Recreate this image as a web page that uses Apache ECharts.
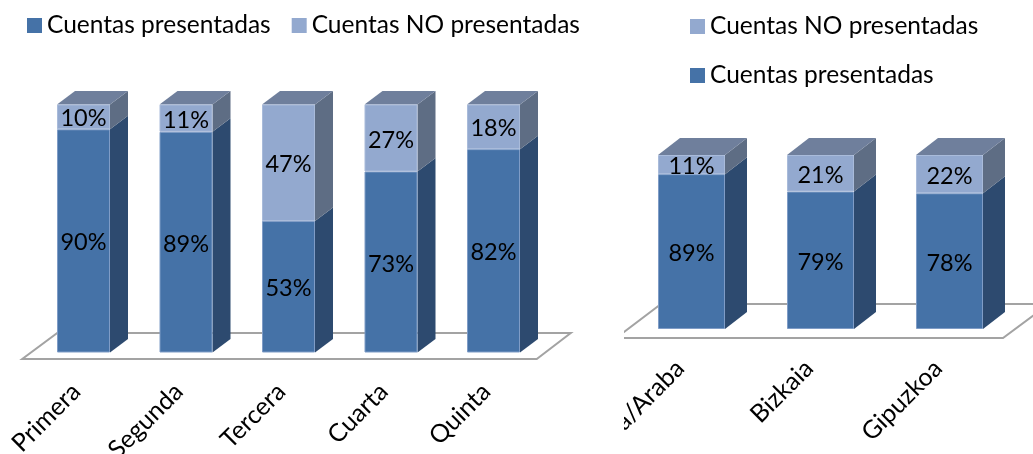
<!DOCTYPE html>
<html>
<head>
<meta charset="utf-8">
<style>
html,body{margin:0;padding:0;background:#fff;overflow:hidden}
#a{position:absolute;left:0;top:0;width:624px;height:454px}
#b{position:absolute;left:624px;top:0;width:409px;height:454px}
</style>
<script src="https://cdn.jsdelivr.net/npm/echarts@6/dist/echarts.min.js"></script>
</head>
<body>
<div id="a"></div>
<div id="b"></div>
<script>
const leftCategories = ['Primera','Segunda','Tercera','Cuarta','Quinta'];
const leftPresented = [90,89,53,73,82];
const leftNotPresented = [10,11,47,27,18];

const rightCategories = ['Álava/Araba','Bizkaia','Gipuzkoa'];
const rightPresented = [89,79,78];
const rightNotPresented = [11,21,22];

const PRESENTED = 'Cuentas presentadas';
const NOT_PRESENTED = 'Cuentas NO presentadas';
const FONT = 'Lato, "Open Sans", sans-serif';

function faces(presented, notPresented) {
  const rows = [];
  presented.forEach((v, i) => {
    rows.push([i, 0, v, 0]);
    rows.push([i, v, v + notPresented[i], 1]);
  });
  return rows;
}

function build(cfg) {
  const depth = function (params, api) {
    const p0 = api.coord([api.value(0), api.value(1)]);
    const p1 = api.coord([api.value(0), api.value(2)]);
    const r = p0[0] + cfg.barWidth / 2;
    const l = p0[0] - cfg.barWidth / 2;
    const dx = cfg.dx, dy = cfg.dy;
    const light = api.value(3) === 1;
    const children = [{
      type: 'polygon',
      shape: {points: [[r, p0[1]], [r + dx, p0[1] - dy], [r + dx, p1[1] - dy], [r, p1[1]]]},
      style: {fill: light ? '#5E6D84' : '#2D4A6F'}
    }];
    if (light) children.push({
      type: 'polygon',
      shape: {points: [[l, p1[1]], [l + dx, p1[1] - dy], [r + dx, p1[1] - dy], [r, p1[1]]]},
      style: {fill: '#6F7F9C'}
    });
    return {type: 'group', children};
  };
  const floor = function (params, api) {
    const g = params.coordSys;
    const b = g.y + g.height;
    const o = cfg.floor;
    return {
      type: 'polygon',
      shape: {points: [
        [g.x + o.frontLeft, b + o.front],
        [g.x + g.width + o.frontRight, b + o.front],
        [g.x + g.width + o.backRight, b - o.back],
        [g.x + o.backLeft, b - o.back]
      ]},
      style: {fill: '#fff', stroke: '#A3A3A3', lineWidth: 2}
    };
  };
  const barLabel = {
    show: true, position: 'inside', color: '#000',
    fontFamily: FONT, fontSize: cfg.labelSize, offset: [0, 2],
    formatter: p => p.value + '%'
  };
  return {
    animation: false,
    backgroundColor: '#fff',
    legend: Object.assign({
      icon: 'rect', itemWidth: 15, itemHeight: 15,
      itemStyle: {borderWidth: 0},
      textStyle: {fontFamily: FONT, fontSize: cfg.legendSize, color: '#000'},
      selectedMode: false
    }, cfg.legend),
    grid: Object.assign({outerBoundsMode: 'none'}, cfg.grid),
    xAxis: {
      type: 'category', data: cfg.categories,
      axisLine: {show: false}, axisTick: {show: false},
      axisLabel: {
        interval: 0, rotate: 45, margin: cfg.labelMargin, color: '#000',
        fontFamily: FONT, fontSize: cfg.axisSize, hideOverlap: false,
        padding: [0, cfg.labelPad, 0, 0]
      }
    },
    yAxis: {type: 'value', min: 0, max: 100, show: false},
    series: [
      {type: 'custom', silent: true, z: 1, coordinateSystem: 'cartesian2d',
       data: [[0, 0]], renderItem: floor, encode: {x: 0, y: 1}},
      {type: 'custom', silent: true, z: 2, coordinateSystem: 'cartesian2d',
       data: faces(cfg.presented, cfg.notPresented), renderItem: depth, encode: {x: 0, y: [1, 2]}},
      {type: 'bar', name: PRESENTED, stack: 's', z: 3, barWidth: cfg.barWidth,
       data: cfg.presented, label: barLabel,
       itemStyle: {color: '#4572A7', borderColor: '#7F9CC6', borderWidth: 1}},
      {type: 'bar', name: NOT_PRESENTED, stack: 's', z: 3, barWidth: cfg.barWidth,
       data: cfg.notPresented, label: barLabel,
       itemStyle: {color: '#93A9CF', borderColor: '#A9BBDA', borderWidth: 1}}
    ]
  };
}

echarts.init(document.getElementById('a')).setOption(build({
  categories: leftCategories, presented: leftPresented, notPresented: leftNotPresented,
  barWidth: 53, dx: 18, dy: 13.5, labelSize: 23.5, legendSize: 24.5, axisSize: 25, labelMargin: 28, labelPad: 10,
  grid: {left: 32.25, top: 104.5, width: 512.5, height: 248},
  floor: {frontLeft: -10, frontRight: -8, backLeft: 25, backRight: 26, front: 6.5, back: 19.5},
  legend: {left: 22, top: 8, itemGap: 21, data: [PRESENTED, NOT_PRESENTED]}
}));

echarts.init(document.getElementById('b')).setOption(build({
  categories: rightCategories, presented: rightPresented, notPresented: rightNotPresented,
  barWidth: 67, dx: 22, dy: 17, labelSize: 23.5, legendSize: 24.5, axisSize: 25, labelMargin: 24, labelPad: 16,
  grid: {left: 3, top: 155, width: 387, height: 174},
  floor: {frontLeft: -11, frontRight: -11, backLeft: 34, backRight: 35, front: 9, back: 25},
  legend: {left: 61, top: 9, orient: 'vertical', itemGap: 24, data: [NOT_PRESENTED, PRESENTED]}
}));
</script>
</body>
</html>
